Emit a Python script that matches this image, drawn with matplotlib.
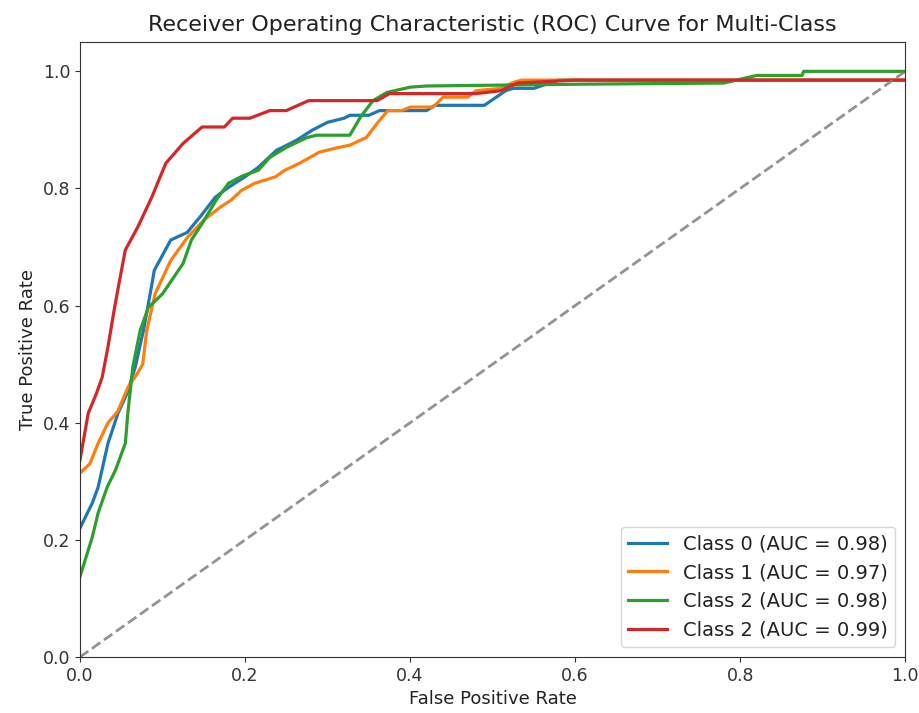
import numpy as np
import matplotlib
matplotlib.use("Agg")
import matplotlib.pyplot as plt

# ROC points (fpr, tpr)
fpr_0 = [0.0, 0.015, 0.022, 0.034, 0.046, 0.057, 0.067, 0.077, 0.088, 0.09, 0.11, 0.13, 0.147, 0.164, 0.18, 0.2, 0.216, 0.238, 0.262, 0.282, 0.3, 0.32, 0.327, 0.35, 0.363, 0.39, 0.42, 0.43, 0.465, 0.49, 0.516, 0.525, 0.55, 0.58, 1.0]
tpr_0 = [0.22, 0.263, 0.29, 0.365, 0.416, 0.45, 0.495, 0.558, 0.643, 0.66, 0.712, 0.725, 0.754, 0.785, 0.802, 0.82, 0.836, 0.865, 0.882, 0.9, 0.913, 0.92, 0.925, 0.925, 0.933, 0.933, 0.933, 0.942, 0.942, 0.942, 0.967, 0.971, 0.971, 0.985, 0.985]

fpr_1 = [0.0, 0.012, 0.022, 0.034, 0.046, 0.058, 0.07, 0.076, 0.081, 0.091, 0.11, 0.13, 0.15, 0.17, 0.183, 0.196, 0.212, 0.237, 0.248, 0.266, 0.29, 0.31, 0.327, 0.347, 0.36, 0.373, 0.39, 0.4, 0.428, 0.44, 0.47, 0.48, 0.51, 0.525, 0.535, 1.0]
tpr_1 = [0.314, 0.33, 0.365, 0.4, 0.42, 0.46, 0.485, 0.5, 0.558, 0.62, 0.677, 0.716, 0.746, 0.768, 0.78, 0.797, 0.809, 0.82, 0.831, 0.843, 0.862, 0.869, 0.874, 0.887, 0.911, 0.933, 0.933, 0.939, 0.939, 0.956, 0.956, 0.967, 0.971, 0.981, 0.985, 0.985]

fpr_2 = [0.0, 0.015, 0.022, 0.033, 0.043, 0.055, 0.058, 0.064, 0.073, 0.083, 0.1, 0.125, 0.135, 0.148, 0.165, 0.18, 0.198, 0.216, 0.23, 0.25, 0.275, 0.287, 0.305, 0.327, 0.34, 0.355, 0.372, 0.4, 0.42, 0.6, 0.78, 0.82, 0.875, 0.877, 1.0]
tpr_2 = [0.137, 0.205, 0.246, 0.29, 0.319, 0.365, 0.416, 0.495, 0.558, 0.597, 0.62, 0.672, 0.712, 0.74, 0.78, 0.809, 0.822, 0.831, 0.853, 0.87, 0.887, 0.891, 0.891, 0.891, 0.922, 0.95, 0.964, 0.973, 0.975, 0.978, 0.98, 0.993, 0.993, 1.0, 1.0]

fpr_3 = [0.0, 0.01, 0.02, 0.027, 0.034, 0.042, 0.048, 0.055, 0.07, 0.087, 0.104, 0.125, 0.148, 0.175, 0.185, 0.206, 0.23, 0.25, 0.277, 0.293, 0.36, 0.375, 0.48, 0.51, 0.53, 0.6, 1.0]
tpr_3 = [0.336, 0.416, 0.45, 0.478, 0.53, 0.597, 0.643, 0.695, 0.734, 0.785, 0.843, 0.877, 0.905, 0.905, 0.92, 0.92, 0.933, 0.933, 0.95, 0.95, 0.95, 0.962, 0.962, 0.967, 0.98, 0.985, 0.985]

auc_values = [0.98, 0.97, 0.98, 0.99]
class_names = ["Class 0", "Class 1", "Class 2", "Class 2"]

curves = [(fpr_0, tpr_0), (fpr_1, tpr_1), (fpr_2, tpr_2), (fpr_3, tpr_3)]
colors = ["#1f77b4", "#ff7f0e", "#2ca02c", "#d62728"]

plt.rcParams["text.color"] = "#222222"
plt.rcParams["axes.labelcolor"] = "#222222"
plt.rcParams["xtick.color"] = "#333333"
plt.rcParams["ytick.color"] = "#333333"
plt.rcParams["axes.edgecolor"] = "#333333"

fig = plt.figure(figsize=(9.19, 7.13), dpi=100)
ax = fig.add_axes([0.087, 0.0785, 0.898, 0.8625])

for (fpr, tpr), name, auc, color in zip(curves, class_names, auc_values, colors):
    ax.plot(fpr, tpr, color=color, lw=2.3, label=f"{name} (AUC = {auc:.2f})")

ax.plot([0, 1], [0, 1], color="gray", lw=2, linestyle="--", alpha=0.85)

ax.set_xlim(0.0, 1.0)
ax.set_ylim(0.0, 1.05)
ax.set_xlabel("False Positive Rate", fontsize=13)
ax.set_ylabel("True Positive Rate", fontsize=13)
ax.set_title("Receiver Operating Characteristic (ROC) Curve for Multi-Class", fontsize=16, pad=8)
ax.tick_params(labelsize=12.5)
ax.legend(loc="lower right", fontsize=14)

fig.savefig("out.png", dpi=100)
